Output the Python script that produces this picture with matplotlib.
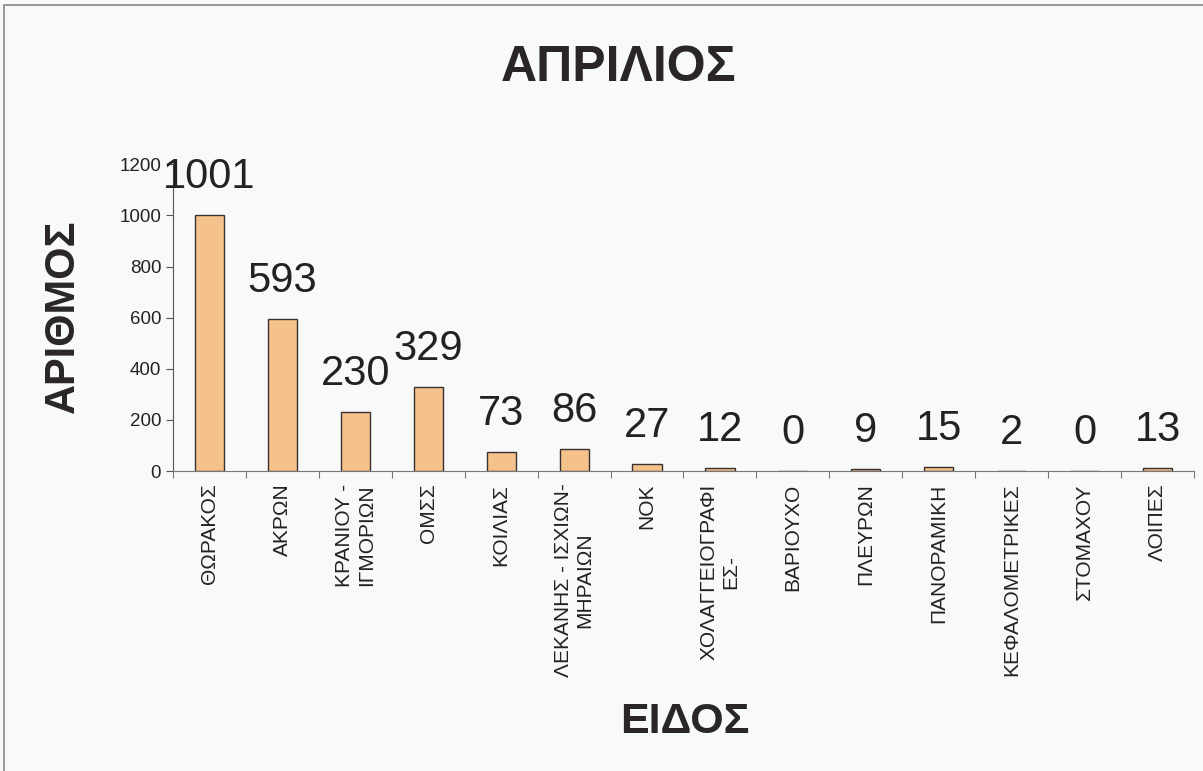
import matplotlib
matplotlib.use('Agg')
import matplotlib.pyplot as plt
from matplotlib.patches import Rectangle
import numpy as np

plt.rcParams['font.family'] = ['Liberation Sans', 'DejaVu Sans']

# data
categories = ["ΘΩΡΑΚΟΣ", "ΑΚΡΩΝ", "ΚΡΑΝΙΟΥ -\nΙΓΜΟΡΙΩΝ", "ΟΜΣΣ", "ΚΟΙΛΙΑΣ",
              "ΛΕΚΑΝΗΣ - ΙΣΧΙΩΝ-\nΜΗΡΑΙΩΝ", "ΝΟΚ", "ΧΟΛΑΓΓΕΙΟΓΡΑΦΙ\nΕΣ-", "ΒΑΡΙΟΥΧΟ",
              "ΠΛΕΥΡΩΝ", "ΠΑΝΟΡΑΜΙΚΗ", "ΚΕΦΑΛΟΜΕΤΡΙΚΕΣ", "ΣΤΟΜΑΧΟΥ", "ΛΟΙΠΕΣ"]
counts = [1001, 593, 230, 329, 73, 86, 27, 12, 0, 9, 15, 2, 0, 13]
y_ticks = [0, 200, 400, 600, 800, 1000, 1200]

bg = '#f8fafa'
fig = plt.figure(figsize=(12.03, 7.71), dpi=100, facecolor=bg)
ax = fig.add_axes([0.1438, 0.389, 0.8487, 0.398])
ax.set_facecolor(bg)

x = np.arange(len(categories))
bars = ax.bar(x, counts, width=0.4, color='#f6c28c', edgecolor='#3a3030', linewidth=1.0)

for xi, v in zip(x, counts):
    ax.annotate(str(v), (xi, v), xytext=(0, 13), textcoords='offset points',
                ha='center', va='bottom', fontsize=30, color='#222222')

ax.set_xlim(-0.5, len(categories) - 0.5)
ax.set_ylim(0, 1200)
ax.set_yticks(y_ticks)
ax.tick_params(axis='y', labelsize=13.5, length=5, color='#555555', labelcolor='#222222')

# ticks between categories, labels centred under bars
ax.set_xticks(np.arange(len(categories) + 1) - 0.5)
ax.set_xticklabels([])
ax.set_xticks(x, minor=True)
ax.set_xticklabels(categories, minor=True, rotation=90, fontsize=15, color='#222222',
                   ha='center', va='top', multialignment='center')
ax.tick_params(axis='x', which='major', length=5, color='#777777')
ax.tick_params(axis='x', which='minor', length=0, pad=9)

for s in ['top', 'right']:
    ax.spines[s].set_visible(False)
ax.spines['left'].set_color('#555555')
ax.spines['bottom'].set_color('#777777')

fig.text(0.514, 0.912, "ΑΠΡΙΛΙΟΣ", ha='center', va='center', fontsize=36,
         fontweight='bold', color='#2a2628')
fig.text(0.052, 0.59, "ΑΡΙΘΜΟΣ", ha='center', va='center', rotation=90, fontsize=30,
         fontweight='bold', color='#2a2628')
fig.text(0.569, 0.064, "ΕΙΔΟΣ", ha='center', va='center', fontsize=31,
         fontweight='bold', color='#2a2628')

# thin frame of the scanned page
fig.patches.append(Rectangle((0.003, -0.01), 1.2, 1.003, transform=fig.transFigure,
                             fill=False, edgecolor='#888888', linewidth=1.2))

fig.savefig('out.png', dpi=100, facecolor=bg)
